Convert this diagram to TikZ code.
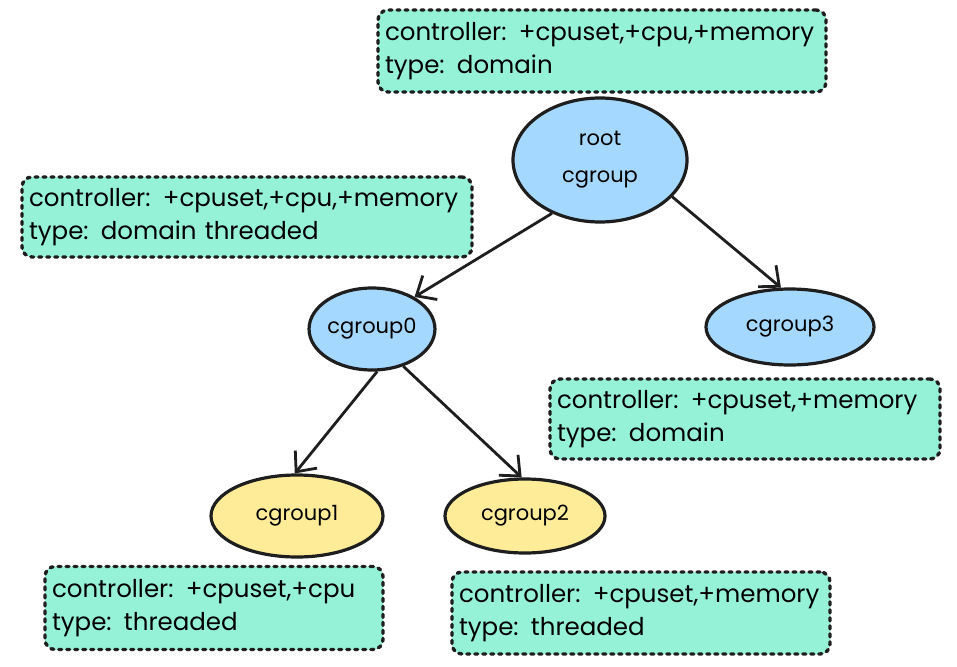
\documentclass[tikz,border=0pt]{standalone}
\usepackage{fontspec}
\setmainfont{Poppins}
\usetikzlibrary{shapes, arrows.meta}
\definecolor{mint}{HTML}{96F2D7}
\definecolor{skyblue}{HTML}{A5D8FF}
\definecolor{lemon}{HTML}{FFEC99}
\definecolor{ink}{HTML}{1E1E1E}
\tikzstyle{line} = [draw=ink, line width=2.8pt, -{Straight Barb[length=16pt, width=28pt, line width=2.8pt]}]
\tikzstyle{group} = [ellipse, draw=ink, line width=3.2pt, inner sep=0pt, font=\fontsize{21}{37}\selectfont]
\tikzstyle{info} = [rectangle, rounded corners=10pt, draw=ink, fill=mint, line width=3.4pt, dash pattern=on 3pt off 5pt, line cap=round, inner sep=0pt, align=left, font=\fontsize{24.5}{33}\selectfont]

\begin{document}
\begin{tikzpicture}[x=1pt, y=-1pt]
		\useasboundingbox (0, 0) rectangle (957, 666);
		% cgroup tree
		\node[group, fill=skyblue, minimum width=174pt, minimum height=124pt, align=center] (root) at (600, 160) {root\\cgroup};
		\node[group, fill=skyblue, minimum width=116pt, minimum height=82pt] (g0) at (372, 329) {cgroup0};
		\node[group, fill=skyblue, minimum width=168pt, minimum height=76pt] (g3) at (790, 327) {cgroup3};
		\node[group, fill=lemon, minimum width=172pt, minimum height=82pt] (g1) at (297, 516) {cgroup1};
		\node[group, fill=lemon, minimum width=160pt, minimum height=74pt] (g2) at (525, 516) {cgroup2};
		
		\path [line] (root.-132) -- (g0.37);
		\path [line] (root.-27) -- (g3.103);
		\path [line] (g0.-83) -- (g1.93);
		\path [line] (g0.-50) -- (g2.95);
		
		% controller boxes
		\node[info, minimum width=448pt, minimum height=82pt, text width=434pt] (iroot) at (602, 51) {controller: +cpuset,+cpu,+memory\\type: domain};
		\node[info, minimum width=450pt, minimum height=80pt, text width=436pt] (i0) at (247, 217) {controller: +cpuset,+cpu,+memory\\type: domain threaded};
		\node[info, minimum width=390pt, minimum height=80pt, text width=376pt] (i3) at (745, 419) {controller: +cpuset,+memory\\type: domain};
		\node[info, minimum width=338pt, minimum height=83pt, text width=324pt] (i1) at (214, 608) {controller: +cpuset,+cpu\\type: threaded};
		\node[info, minimum width=378pt, minimum height=82pt, text width=364pt] (i2) at (641, 613) {controller: +cpuset,+memory\\type: threaded};
		
	\end{tikzpicture}
\end{document}
